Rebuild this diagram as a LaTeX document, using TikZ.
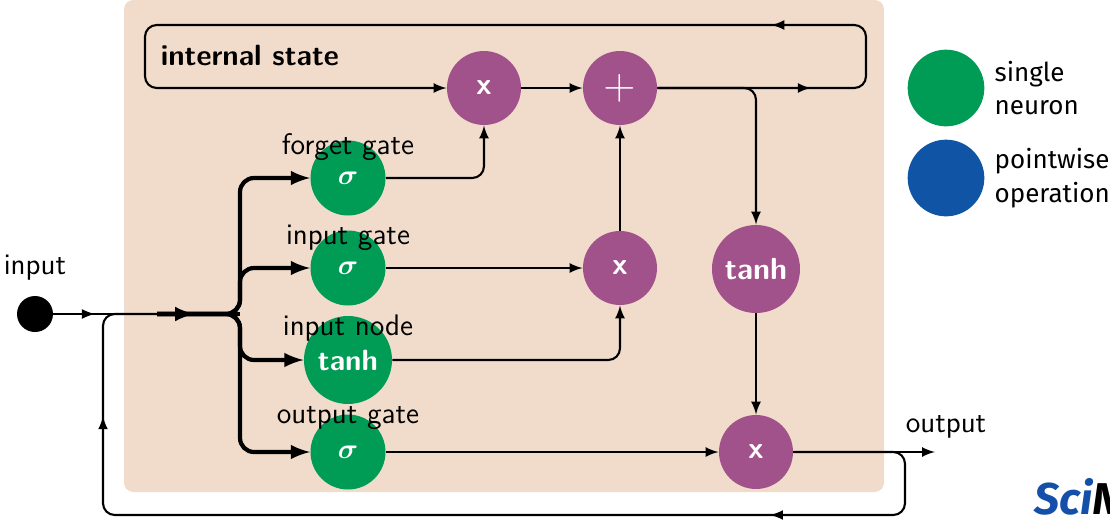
\documentclass[tikz,border=0pt]{standalone}
\usepackage{amsmath}
\usepackage{amssymb}
\usepackage{fontspec}
\newfontfamily\legendfont{Fira Sans}
\usepackage{xcolor}
\usepackage{tikz}
\usetikzlibrary{arrows,positioning,decorations.markings}
\definecolor{bgpeach}{RGB}{241,220,203}
\definecolor{neurongreen}{RGB}{0,155,85}
\definecolor{opviolet}{RGB}{162,82,138}
\definecolor{opblue}{RGB}{16,85,165}
\definecolor{sciblue}{RGB}{20,80,170}
\tikzset{>=latex}
\tikzset{neuron/.style={circle,fill=neurongreen,minimum size=1.125cm,inner sep=0pt,text=white,font=\sffamily\bfseries\fontsize{12.5}{12.5}\selectfont},
         opnode/.style={circle,fill=opviolet,minimum size=1.11cm,inner sep=0pt,text=white,font=\sffamily\bfseries\fontsize{13}{13}\selectfont},
         inputdot/.style={circle,fill=black,minimum size=0.54cm,inner sep=0pt},
         gatelabel/.style={font=\sffamily\fontsize{12.7}{12.7}\selectfont,inner sep=1pt},
         legendtext/.style={font=\legendfont\fontsize{11.1}{14.5}\selectfont,align=left,inner sep=0pt},
         line/.style={draw,line width=0.9pt},
         flow/.style={line,->},
         thickline/.style={draw,line width=1.8pt},
         thickflow/.style={thickline,->},
         midarrow/.style={postaction={decorate},decoration={markings,mark=at position #1 with {\arrow{latex}}}},
         twoarrows/.style 2 args={postaction={decorate},decoration={markings,mark=at position #1 with {\arrow{latex}},mark=at position #2 with {\arrow{latex}}}},
            }

\begin{document}
\begin{tikzpicture}[x=0.015cm,y=-0.015cm]
    \useasboundingbox (0,0) rectangle (1110,519);
    \fill[bgpeach,rounded corners=4pt] (124,0) rectangle (884,492);

    \node[inputdot] (in) at (35,314) {};
    \node[gatelabel] (inlab) at (35,268) {input};

    \node[neuron] (fg) at (348,178) {$\boldsymbol{\sigma}$};
    \node[neuron] (ig) at (348,268) {$\boldsymbol{\sigma}$};
    \node[neuron,minimum size=1.32cm] (nd) at (348,360) {tanh};
    \node[neuron] (og) at (348,452) {$\boldsymbol{\sigma}$};

    \node[gatelabel] (fglab) at (348,147) {forget gate};
    \node[gatelabel] (iglab) at (348,238) {input gate};
    \node[gatelabel] (ndlab) at (348,328) {input node};
    \node[gatelabel] (oglab) at (348,418) {output gate};

    \node[opnode] (m1) at (484,88) {x};
    \node[opnode] (pl) at (620,88) {\mdseries\fontsize{19}{19}\selectfont +};
    \node[opnode] (m2) at (620,268) {x};
    \node[opnode,minimum size=1.32cm] (th) at (756,269) {tanh};
    \node[opnode] (m3) at (756,452) {x};

    \node[gatelabel,anchor=west] (state) at (158,55) {\bfseries\fontsize{12.5}{12.5}\selectfont internal state};
    \node[gatelabel] (outlab) at (946,427) {output};

    % legend
    \node[neuron,minimum size=1.15cm] (lg1) at (946,88) {};
    \node[opnode,fill=opblue,minimum size=1.15cm] (lg2) at (946,178) {};
    \node[legendtext,right=0.14cm of lg1] (lt1) {single\\neuron};
    \node[legendtext,right=0.14cm of lg2] (lt2) {pointwise\\operation};
    \node[anchor=west,inner sep=0pt,font=\legendfont\bfseries\itshape\fontsize{19}{19}\selectfont] (sci) at (1034,497) {\textcolor{sciblue}{Sci}N};

    \coordinate (join) at (157,314);
    \coordinate (split) at (240,314);
    \coordinate (lpr) at (866,25);
    \coordinate (lpl) at (145,88);
    \coordinate (out) at (935,452);
    \coordinate (fbr) at (905,515);
    \coordinate (fbl) at (103,515);

    \draw[line,midarrow=0.4] (in) -- (join);
    \draw[thickline,midarrow=0.45] (join) -- (split);
    \foreach \g in {fg,ig,nd,og}
        \draw[thickflow,rounded corners=6pt] (join) -- (split) |- (\g);

    \draw[flow,rounded corners=5pt,twoarrows={2.3cm}{5.34cm}] (pl) -| (lpr) -| (lpl) -- (m1);
    \draw[flow,rounded corners=5pt] (pl) -| (th);
    \draw[flow,rounded corners=5pt] (fg) -| (m1);
    \draw[flow] (m1) -- (pl);
    \draw[flow] (ig) -- (m2);
    \draw[flow,rounded corners=5pt] (nd) -| (m2);
    \draw[flow] (m2) -- (pl);
    \draw[flow] (th) -- (m3);
    \draw[flow] (og) -- (m3);
    \draw[flow] (m3) -- (out);
    \draw[line,rounded corners=5pt,twoarrows={4.49cm}{15.9cm}] (m3) -| (fbr) -- (fbl) |- (join);

\end{tikzpicture}
\end{document}
